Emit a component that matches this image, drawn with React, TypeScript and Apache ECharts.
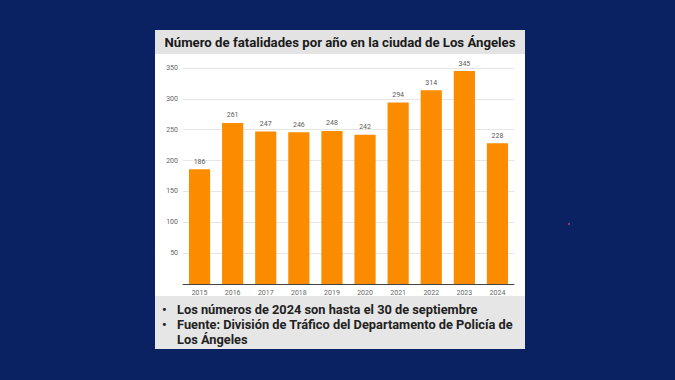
import React, { useEffect, useRef } from "react";
import * as echarts from "echarts";

const years = ["2015", "2016", "2017", "2018", "2019", "2020", "2021", "2022", "2023", "2024"];
const fatalities = [186, 261, 247, 246, 248, 242, 294, 314, 345, 228];
const titleText = "Número de fatalidades por año en la ciudad de Los Ángeles";
const noteLines = [
  "Los números de 2024 son hasta el 30 de septiembre",
  "Fuente: División de Tráfico del Departamento de Policía de",
  "Los Ángeles",
];

export default function App() {
  const ref = useRef<HTMLDivElement>(null);
  useEffect(() => {
    if (!ref.current) return;
    const chart = echarts.init(ref.current, null, { renderer: "svg" });
    const font = "Roboto, 'Liberation Sans', sans-serif";
    const noteFont = `bold 12.8px ${font}`;
    chart.setOption({
      animation: false,
      backgroundColor: "#0a2262",
      graphic: [
        { type: "rect", z: -10, shape: { x: 155, y: 30, width: 370, height: 319 }, style: { fill: "#ffffff" } },
        { type: "rect", z: 10, shape: { x: 155, y: 30, width: 370, height: 24 }, style: { fill: "#e3e3e3" } },
        {
          type: "text", z: 11, x: 340, y: 42.5,
          style: { text: titleText, fill: "#1a1a1a", font: `bold 13.2px ${font}`, align: "center", verticalAlign: "middle" },
        },
        { type: "rect", z: 10, shape: { x: 155, y: 296, width: 370, height: 53 }, style: { fill: "#e6e6e6" } },
        { type: "text", z: 11, x: 162, y: 309, style: { text: "•", fill: "#222", font: noteFont, verticalAlign: "middle" } },
        { type: "text", z: 11, x: 162, y: 324, style: { text: "•", fill: "#222", font: noteFont, verticalAlign: "middle" } },
        { type: "text", z: 11, x: 177, y: 309, style: { text: noteLines[0], fill: "#222", font: noteFont, verticalAlign: "middle" } },
        { type: "text", z: 11, x: 177, y: 324, style: { text: noteLines[1], fill: "#222", font: noteFont, verticalAlign: "middle" } },
        { type: "text", z: 11, x: 177, y: 339, style: { text: noteLines[2], fill: "#222", font: noteFont, verticalAlign: "middle" } },
        { type: "circle", z: 11, shape: { cx: 569, cy: 224, r: 1 }, style: { fill: "#b04080" } },
      ],
      grid: { left: 183, right: 161, top: 68, bottom: 96, containLabel: false },
      xAxis: {
        type: "category",
        data: years,
        axisLine: { lineStyle: { color: "#444", width: 1 } },
        axisTick: { show: false },
        axisLabel: { color: "#666", fontSize: 7, fontFamily: "Roboto", margin: 5 },
      },
      yAxis: {
        type: "value",
        min: 0,
        max: 350,
        interval: 50,
        axisLine: { show: false },
        axisTick: { show: false },
        splitLine: { lineStyle: { color: "#e6e6e6", width: 1 } },
        axisLabel: {
          color: "#666", fontSize: 7, fontFamily: "Roboto", margin: 5,
          formatter: (v: number) => (v === 0 ? "" : String(v)),
        },
      },
      series: [
        {
          type: "bar",
          data: fatalities,
          barWidth: "64%",
          itemStyle: { color: "#fb8c00" },
          label: {
            show: true, position: "top", distance: 4, color: "#5a5a5a", fontSize: 7, fontFamily: "Roboto",
            textBorderWidth: 0,
          },
        },
      ],
    });
    return () => chart.dispose();
  }, []);
  return <div ref={ref} style={{ position: "fixed", left: 0, top: 0, width: 675, height: 380 }} />;
}
